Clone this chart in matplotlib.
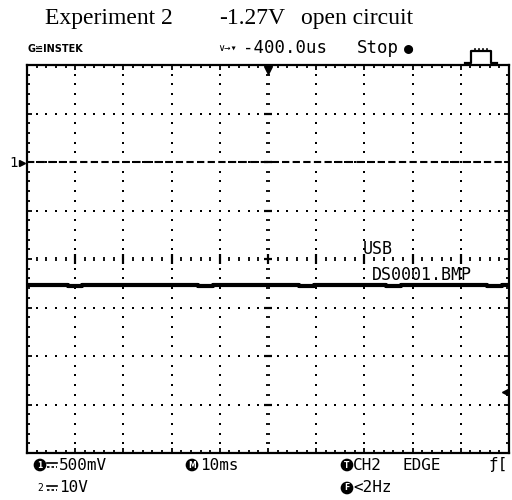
import numpy as np
import matplotlib
matplotlib.use("Agg")
import matplotlib.pyplot as plt
from matplotlib.lines import Line2D

# screen settings
title_parts = ["Experiment 2", "-1.27V", "open circuit"]
volts_per_div = 0.5      # CH1 500mV
ms_per_div = 10          # M 10ms
ch1_ground_div = 2.0     # "1" marker, 2 div above centre
trig_level_div = -2.75   # right hand arrow
n_xdiv = 10
n_ydiv = 8

# CH1 trace (time in ms, volts), open circuit about -1.27 V
trace_t = [-50, -46, -43, -40, -37, -34, -31, -28, -25, -22, -19, -16, -13, -10,
           -7, -4, -1, 2, 5, 8, 11, 14, 17, 20, 23, 26, 29, 32, 35, 38, 41, 44, 47, 50]
trace_v = [-1.27, -1.27, -1.27, -1.275, -1.27, -1.27, -1.27, -1.265, -1.27, -1.27,
           -1.27, -1.27, -1.275, -1.27, -1.27, -1.27, -1.27, -1.27, -1.27, -1.275,
           -1.27, -1.27, -1.27, -1.27, -1.27, -1.275, -1.27, -1.265, -1.27, -1.27,
           -1.27, -1.27, -1.275, -1.27]

W, H = 512, 500


def fx(x):
    return x / W


def fy(y):
    return 1 - y / H


fig = plt.figure(figsize=(5.12, 5.0), dpi=100)
fig.patch.set_facecolor("white")

# screen box: x 27..509, y 65..453 px
ax = fig.add_axes([fx(27), fy(453), (509 - 27) / W, (453 - 65) / H])
ax.set_xlim(-n_xdiv / 2, n_xdiv / 2)
ax.set_ylim(-n_ydiv / 2, n_ydiv / 2)
for s in ax.spines.values():
    s.set_linewidth(1.6)
ax.set_xticks(np.arange(-5, 6, 1))
ax.set_yticks(np.arange(-4, 5, 1))
ax.set_xticks(np.arange(-5, 5.01, 0.2), minor=True)
ax.set_yticks(np.arange(-4, 4.01, 0.2), minor=True)
ax.tick_params(which="both", direction="in", top=True, right=True,
               labelbottom=False, labelleft=False, width=1.3, color="black")
ax.tick_params(which="major", length=3.5)
ax.tick_params(which="minor", length=2)

# dotted grid, one dot every 1/5 div
sub = np.arange(-4, 4.01, 0.2)
subx = np.arange(-5, 5.01, 0.2)
for gx in range(-4, 5):
    if gx == 0:
        continue
    ax.plot(np.full(len(sub), gx), sub, ls="none", marker="s", ms=1.5,
            color="black", mew=0)
for gy in range(-3, 4):
    if gy == 0:
        continue
    ax.plot(subx, np.full(len(subx), gy), ls="none", marker="s", ms=1.5,
            color="black", mew=0)

# centre rulers
ax.vlines(subx, -0.05, 0.05, color="black", lw=1.3)
ax.vlines(np.arange(-4, 5, 1), -0.1, 0.1, color="black", lw=1.6)
ax.hlines(sub, -0.04, 0.04, color="black", lw=1.3)
ax.hlines(np.arange(-3, 4, 1), -0.09, 0.09, color="black", lw=1.6)

# CH1 ground reference dashed line
ax.axhline(ch1_ground_div, color="black", lw=1.5, dashes=(3.5, 1.6))

# trace
tx = np.array(trace_t) / ms_per_div
ty = ch1_ground_div + np.array(trace_v) / volts_per_div
ax.plot(tx, ty, color="black", lw=3.0, drawstyle="steps-mid", solid_capstyle="butt")

# markers around the screen
ax.plot(0, 3.9, marker="v", ms=6, color="black", clip_on=False)
ax.plot(4.92, trig_level_div, marker="<", ms=5, color="black", clip_on=False)

# in-screen texts
mono = ["DejaVu Sans Mono", "DejaVu Sans"]
fig.text(fx(363), fy(249), "USB", family=mono, fontsize=12, va="center")
fig.text(fx(372), fy(275), "DS0001.BMP", family=mono, fontsize=12, va="center")

# left channel marker
fig.text(fx(9), fy(163), "1", family=mono, fontsize=10, va="center")
fig.add_artist(Line2D([fx(22)], [fy(163)], marker=">", ms=4.5, color="black"))

# title
serif = "Liberation Serif"
fig.text(fx(45), fy(24), title_parts[0], family=serif, fontsize=17, va="baseline")
fig.text(fx(219), fy(24), title_parts[1], family=serif, fontsize=17, va="baseline")
fig.text(fx(301), fy(24), title_parts[2], family=serif, fontsize=17, va="baseline")

# header line
fig.text(fx(27), fy(49), "G\u224cINSTEK", family="DejaVu Sans", fontsize=7,
         fontweight="bold", va="center")
fig.text(fx(218), fy(48), "\u2228\u2192\u25be", family=mono, fontsize=7.5, va="center")
fig.text(fx(243), fy(48), "-400.0us", family=mono, fontsize=12.5, va="center")
fig.text(fx(357), fy(48), "Stop", family=mono, fontsize=12.5, va="center")
fig.text(fx(404), fy(48), "\u25cf", family=mono, fontsize=11, va="center")

# acquire icon
px = [465, 471, 471, 491, 491, 497]
py = [63, 63, 51, 51, 63, 63]
fig.add_artist(Line2D([fx(v) for v in px], [fy(v) for v in py], color="black", lw=1.6))
for bx in [475, 479, 483, 487]:
    fig.add_artist(Line2D([fx(bx), fx(bx)], [fy(51), fy(49)], color="black", lw=1.2))


def badge(x, y, s):
    fig.text(fx(x), fy(y), s, family="DejaVu Sans", fontsize=5.5, color="white",
             fontweight="bold", ha="center", va="center",
             bbox=dict(boxstyle="circle,pad=0.15", fc="black", ec="black"))


def dc_sign(x, y):
    # DC coupling symbol: solid bar over a dashed bar
    fig.add_artist(Line2D([fx(x), fx(x + 10)], [fy(y - 2), fy(y - 2)],
                          color="black", lw=1.2))
    fig.add_artist(Line2D([fx(x), fx(x + 10)], [fy(y + 1.5), fy(y + 1.5)],
                          color="black", lw=1.2, dashes=(1.5, 1.2)))


# bottom status lines
badge(40, 465, "1")
dc_sign(47, 465)
fig.text(fx(59), fy(465), "500mV", family=mono, fontsize=11.5, va="center")
badge(192, 465, "M")
fig.text(fx(200), fy(465), "10ms", family=mono, fontsize=11.5, va="center")
badge(347, 465, "T")
fig.text(fx(353), fy(465), "CH2", family=mono, fontsize=11.5, va="center")
fig.text(fx(403), fy(465), "EDGE", family=mono, fontsize=11.5, va="center")
fig.text(fx(489), fy(465), "\u0192[", family=mono, fontsize=11.5, va="center")

fig.text(fx(37), fy(488), "2", family=mono, fontsize=7, va="center")
dc_sign(47, 488)
fig.text(fx(59), fy(488), "10V", family=mono, fontsize=11.5, va="center")
badge(347, 488, "F")
fig.text(fx(353), fy(488), "<2Hz", family=mono, fontsize=11.5, va="center")

fig.savefig("out.png", dpi=100)
